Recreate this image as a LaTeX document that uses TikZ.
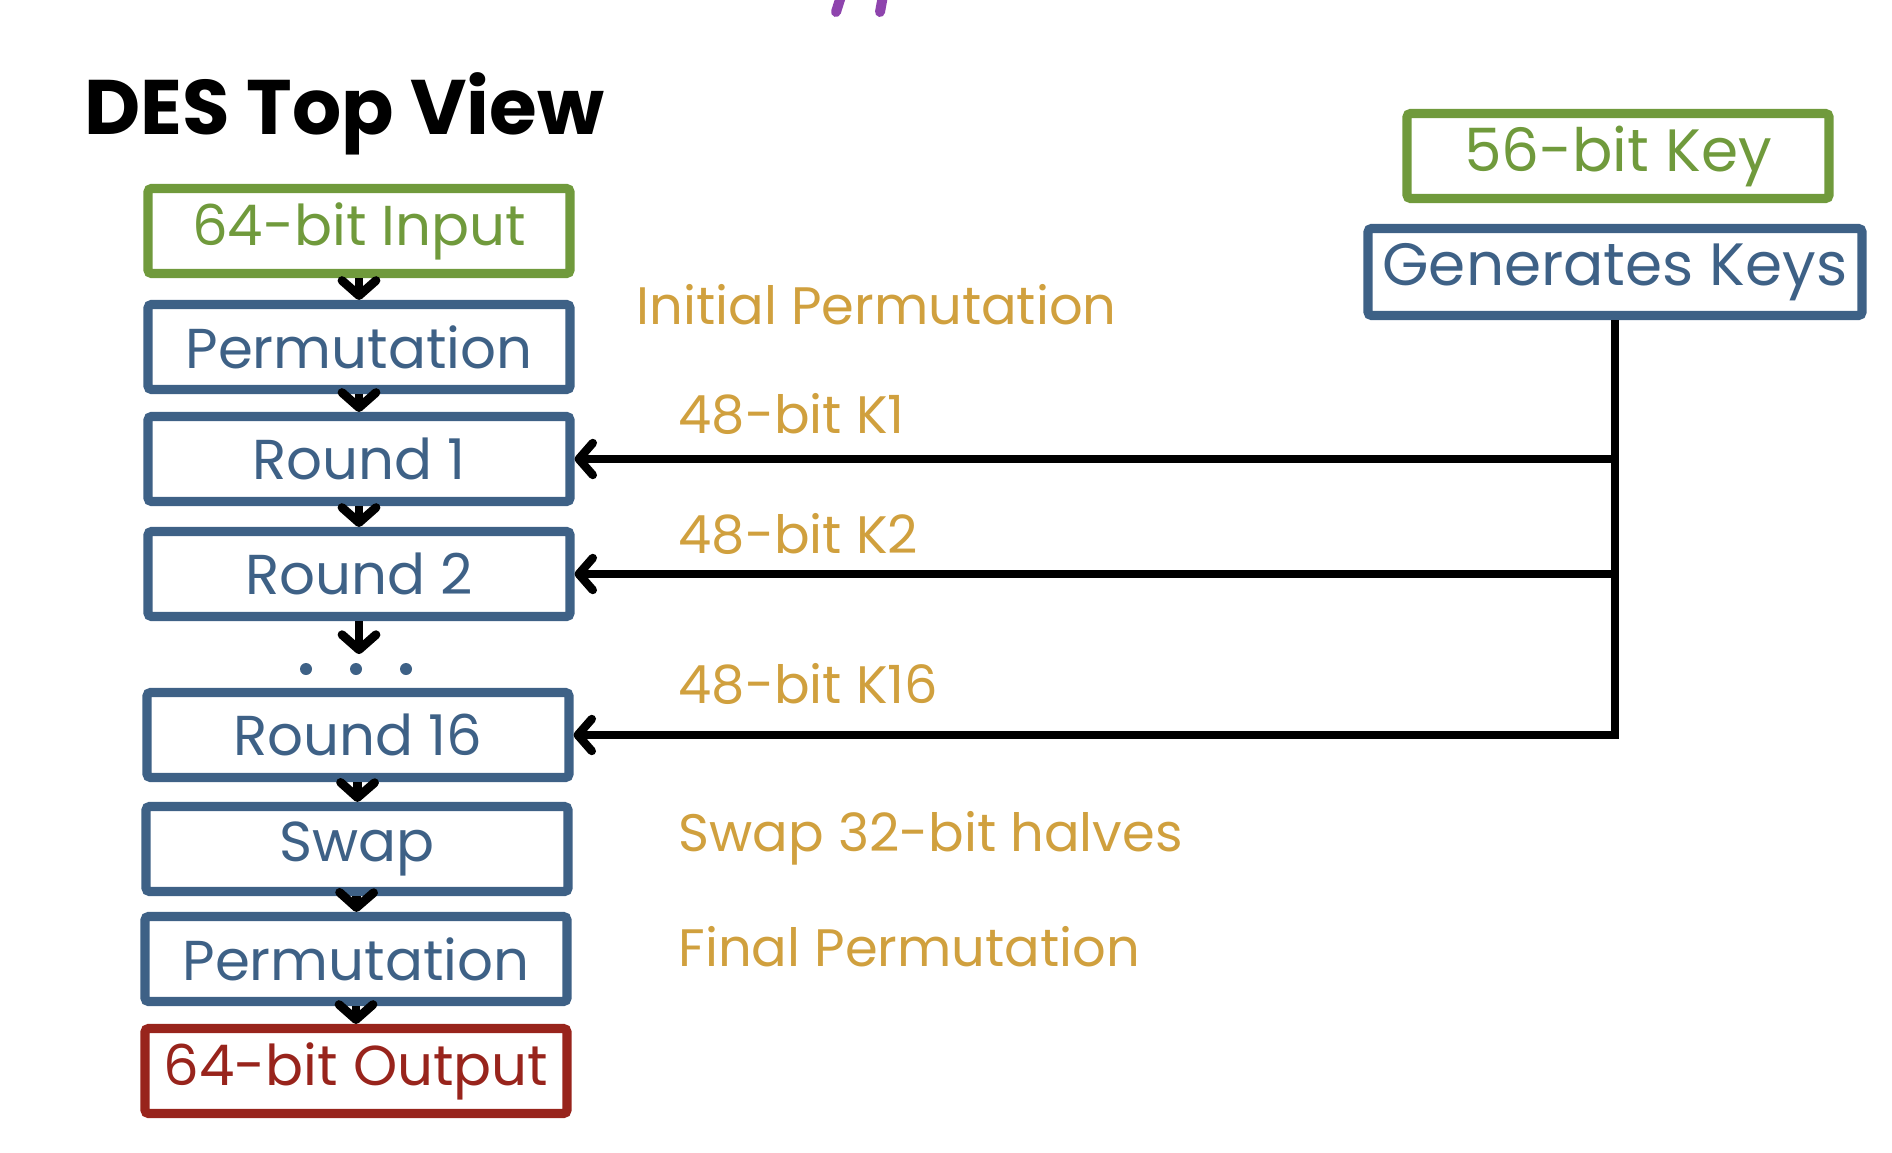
\documentclass[tikz,border=0pt]{standalone}
\usepackage{fontspec}
\setmainfont{Poppins}
\usetikzlibrary{arrows.meta}
\definecolor{desgreen}{RGB}{112,154,60}
\definecolor{desblue}{RGB}{62,97,134}
\definecolor{desred}{RGB}{152,36,28}
\definecolor{desgold}{RGB}{208,160,62}
\definecolor{despurple}{RGB}{142,68,173}

\tikzset{
  box/.style={draw, line width=2.6pt, rounded corners=1pt, minimum width=4.22cm,
    minimum height=0.85cm, inner sep=0pt, font=\fontsize{16}{18}\selectfont},
  inbox/.style={box, color=desgreen},
  stepbox/.style={box, color=desblue},
  outbox/.style={box, color=desred},
  flow/.style={line width=2.5pt, -{Straight Barb[length=1.5mm,width=3.4mm,round]}},
  keyline/.style={line width=2.4pt, -{Straight Barb[length=1.4mm,width=3.2mm,round]}},
  note/.style={color=desgold, anchor=west, inner sep=0pt, font=\fontsize{15}{17}\selectfont}
}

\begin{document}
\begin{tikzpicture}
\useasboundingbox (0,0) rectangle (18.92,-11.52);

% clipped text at the top edge
\draw[despurple, line width=0.1cm, line cap=round] (8.43,0.1) -- (8.36,-0.12);
\draw[despurple, line width=0.1cm, line cap=round] (8.84,0.1) -- (8.80,-0.12);

\node[anchor=base west, inner sep=0pt, font=\fontsize{22}{26}\selectfont\bfseries] (title) at (0.84,-1.35) {DES Top View};

% main chain
\node[inbox] (in) at (3.59,-2.31) {64-bit Input};
\node[stepbox] (ip) at (3.59,-3.47) {Permutation};
\node[stepbox] (r1) at (3.59,-4.59) {Round 1};
\node[stepbox] (r2) at (3.59,-5.74) {Round 2};
\node[stepbox] (r16) at (3.58,-7.35) {Round 16};
\node[stepbox] (sw) at (3.57,-8.49) {Swap};
\node[stepbox] (fp) at (3.56,-9.59) {Permutation};
\node[outbox] (out) at (3.56,-10.71) {64-bit Output};

\draw[flow] (in) -- (ip);
\draw[flow] (ip) -- (r1);
\draw[flow] (r1) -- (r2);
\coordinate (gap) at ([yshift=-0.33cm]r2.south);
\draw[flow] (r2.south) -- (gap);
\foreach \x in {3.06,3.56,4.06}
  \fill[desblue] (\x,-6.69) circle (0.06);
\draw[flow] (r16) -- (sw);
\draw[flow] (sw) -- (fp);
\draw[flow] (fp) -- (out);

% key schedule
\node[inbox, font=\fontsize{17}{19}\selectfont] (key) at (16.18,-1.56) {56-bit Key};
\node[stepbox, minimum width=4.94cm, minimum height=0.87cm, font=\fontsize{17}{19}\selectfont] (gen) at (16.15,-2.72) {Generates Keys};

\draw[keyline] (gen.south) |- (r16.east);
\draw[keyline] (gen.south |- r1.east) -- (r1.east);
\draw[keyline] (gen.south |- r2.east) -- (r2.east);

% notes
\node[note] (n0) at (6.36,-3.05) {Initial Permutation};
\node[note] (n1) at (6.78,-4.14) {48-bit K1};
\node[note] (n2) at (6.78,-5.34) {48-bit K2};
\node[note] (n16) at (6.78,-6.84) {48-bit K16};
\node[note] (n17) at (6.78,-8.38) {Swap 32-bit halves};
\node[note] (n18) at (6.78,-9.47) {Final Permutation};
\end{tikzpicture}
\end{document}
